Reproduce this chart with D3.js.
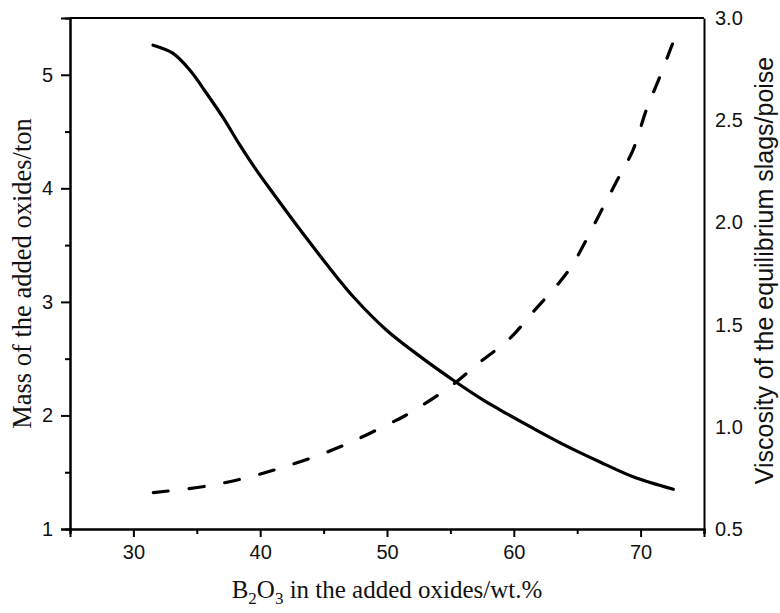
<!DOCTYPE html>
<html>
<head>
<meta charset="utf-8">
<script src="https://cdn.jsdelivr.net/npm/d3@7"></script>
<style>
  body { margin: 0; background: #fff; }
</style>
</head>
<body>
<div class="canvas"></div>
<script>
// data
const massX = [31.55, 33.1, 34.46, 35.78, 37.09, 38.4, 39.7, 41.03, 43.66, 46.03, 47.34, 49.97, 52.6, 55.23, 57.6, 58.9, 61.54, 64.17, 66.8, 69.4, 72.58]
const mass = [5.26, 5.19, 5.04, 4.835, 4.62, 4.38, 4.16, 3.955, 3.56, 3.22, 3.045, 2.75, 2.52, 2.31, 2.135, 2.05, 1.886, 1.73, 1.59, 1.46, 1.35]

const viscX = [31.57, 35.78, 38.93, 41.7, 44.46, 47.34, 49.97, 51.42, 54.97, 57.33, 59.7, 61.54, 63.64, 64.7, 66.8, 68.1, 69.4, 70.45, 71.5, 72.58]
const visc = [0.678, 0.71, 0.751, 0.80, 0.857, 0.93, 1.009, 1.054, 1.196, 1.316, 1.433, 1.563, 1.71, 1.80, 2.045, 2.2, 2.354, 2.55, 2.71, 2.884]

const xTicks = [30, 40, 50, 60, 70]
const xMinor = [25, 35, 45, 55, 65, 75]
const yTicks = [1, 2, 3, 4, 5]
const yMinor = [1.5, 2.5, 3.5, 4.5]
const y2Ticks = [0.5, 1.0, 1.5, 2.0, 2.5, 3.0]

/**
 * Dimensions
 */
const margin = { top: 18, right: 76, bottom: 84, left: 70 }
const dims = { width: 780, height: 613 }
const w = dims.width - margin.left - margin.right
const h = dims.height - margin.top - margin.bottom

const svg = d3.select(".canvas")
    .append("svg")
    .attr("width", dims.width)
    .attr("height", dims.height)

const graph = svg.append("g")
    .attr("transform", `translate(${margin.left}, ${margin.top})`)

// scales
const x = d3.scaleLinear().domain([25, 75]).range([0, w])
const y = d3.scaleLinear().domain([1, 5.5]).range([h, 0])
const y2 = d3.scaleLinear().domain([0.5, 3.0]).range([h, 0])

const sans = "Liberation Sans, Arial, sans-serif"
const serif = "Liberation Serif, Times New Roman, serif"

// minor ticks first so major ticks sit on top
graph.append("g")
    .attr("transform", `translate(0, ${h})`)
    .call(d3.axisBottom(x).tickValues(xMinor).tickSize(5).tickFormat(""))
graph.append("g")
    .call(d3.axisLeft(y).tickValues(yMinor).tickSize(5).tickFormat(""))

const xAxis = graph.append("g")
    .attr("transform", `translate(0, ${h})`)
    .call(d3.axisBottom(x).tickValues(xTicks).tickSize(8).tickPadding(8)
        .tickFormat(d3.format("d")))

const yAxis = graph.append("g")
    .call(d3.axisLeft(y).tickValues(yTicks).tickSize(9).tickPadding(8)
        .tickFormat(d3.format("d")))

const y2Axis = graph.append("g")
    .attr("transform", `translate(${w}, 0)`)
    .call(d3.axisRight(y2).tickValues(y2Ticks).tickSize(0).tickPadding(11)
        .tickFormat(d3.format(".1f")))

// top frame line
graph.append("line")
    .attr("x1", 0).attr("x2", w)
    .attr("y1", 0).attr("y2", 0)
    .attr("stroke", "#000")
    .attr("stroke-width", 2)

graph.selectAll(".domain")
    .attr("stroke", "#000")
    .attr("stroke-width", 2)
graph.selectAll(".tick line")
    .attr("stroke", "#000")
    .attr("stroke-width", 2)
graph.selectAll(".tick text")
    .attr("fill", "#111")
    .style("font-family", sans)
    .style("font-size", "20px")

// lines
const massLine = d3.line()
    .x((d, i) => x(massX[i]))
    .y(d => y(d))
    .curve(d3.curveCatmullRom.alpha(0.5))

const viscLine = d3.line()
    .x((d, i) => x(viscX[i]))
    .y(d => y2(d))
    .curve(d3.curveCatmullRom.alpha(0.5))

graph.append("path")
    .datum(mass)
    .attr("fill", "none")
    .attr("stroke", "#000")
    .attr("stroke-width", 3.2)
    .attr("stroke-linecap", "round")
    .attr("d", massLine)

graph.append("path")
    .datum(visc)
    .attr("fill", "none")
    .attr("stroke", "#000")
    .attr("stroke-width", 3.2)
    .attr("stroke-linecap", "round")
    .attr("stroke-dasharray", "15,21")
    .attr("d", viscLine)

// axis titles
const xTitle = svg.append("text")
    .attr("x", margin.left + w / 2)
    .attr("y", 598)
    .attr("text-anchor", "middle")
    .style("font-family", serif)
    .style("font-size", "25px")
    .attr("fill", "#111")
xTitle.append("tspan").text("B")
xTitle.append("tspan").attr("dy", 6).style("font-size", "17px").text("2")
xTitle.append("tspan").attr("dy", -6).text("O")
xTitle.append("tspan").attr("dy", 6).style("font-size", "17px").text("3")
xTitle.append("tspan").attr("dy", -6).text(" in the added oxides/wt.%")

svg.append("text")
    .attr("transform", `translate(31, ${margin.top + h / 2}) rotate(-90)`)
    .attr("text-anchor", "middle")
    .style("font-family", serif)
    .style("font-size", "26.5px")
    .attr("fill", "#111")
    .text("Mass of the added oxides/ton")

svg.append("text")
    .attr("transform", `translate(773, ${margin.top + h / 2 - 3}) rotate(-90)`)
    .attr("text-anchor", "middle")
    .style("font-family", sans)
    .style("font-size", "25px")
    .attr("fill", "#111")
    .text("Viscosity of the equilibrium slags/poise")
</script>
</body>
</html>
